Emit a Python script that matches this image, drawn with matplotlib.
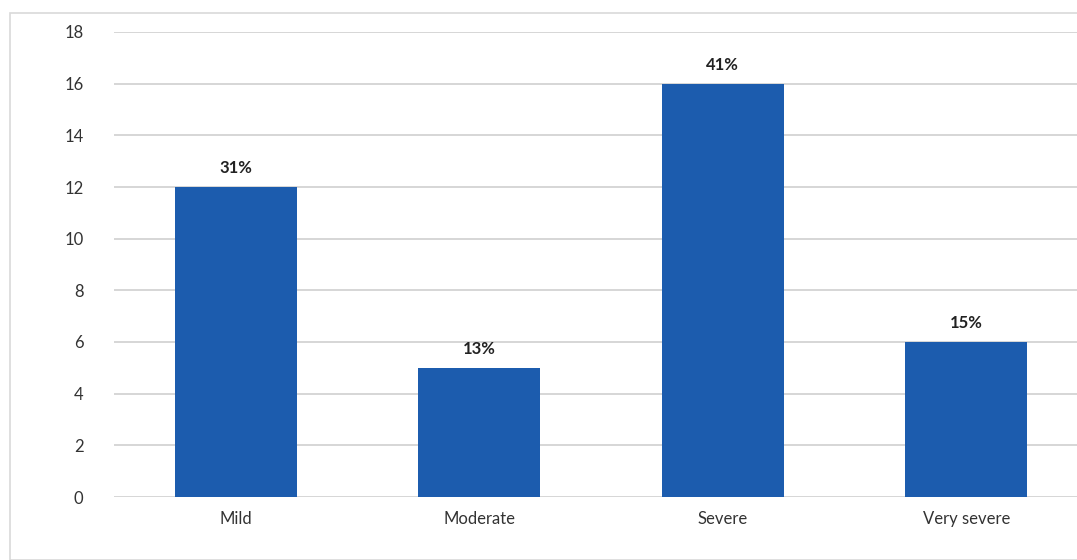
import matplotlib.pyplot as plt
from matplotlib.patches import Rectangle

severity = ['Mild', 'Moderate', 'Severe', 'Very severe']
counts = [12, 5, 16, 6]
percent_labels = ['31%', '13%', '41%', '15%']

plt.rcParams['font.family'] = ['Lato', 'DejaVu Sans']

fig = plt.figure(figsize=(10.77, 5.6), dpi=100)
fig.patch.set_facecolor('white')

# light chart frame like the office-style chart area
fig.patches.append(Rectangle((10 / 1077, 0.0), 1.1, 1 - 13 / 560, transform=fig.transFigure,
                             fill=False, edgecolor='#d9d9d9', linewidth=1.2))

ax = fig.add_axes([114 / 1077, 1 - 497 / 560, 974 / 1077, 465 / 560])
bars = ax.bar(severity, counts, width=0.5, color='#1c5cae', zorder=3)
ax.bar_label(bars, labels=percent_labels, padding=8, fontsize=12, fontweight='bold', color='#222222')

ax.set_ylim(0, 18)
ax.set_xlim(-0.5, 3.5)
ax.set_yticks(range(0, 19, 2))
ax.yaxis.grid(True, color='#d0d0d0', linewidth=1.2, zorder=0)
ax.tick_params(axis='both', length=0, labelsize=12, labelcolor='#333333')
ax.tick_params(axis='x', pad=10)
ax.tick_params(axis='y', pad=22)
for s in ax.spines.values():
    s.set_visible(False)

fig.savefig('out.png', dpi=100)
